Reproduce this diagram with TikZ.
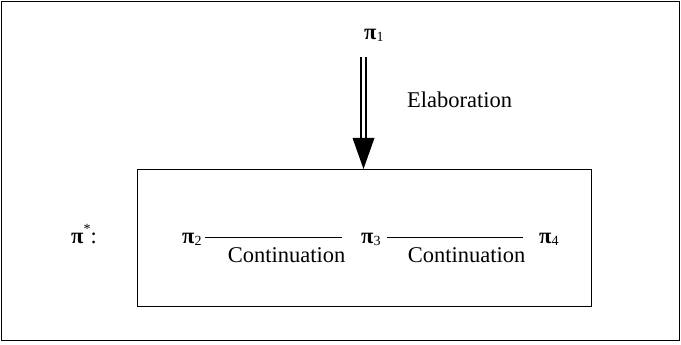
\documentclass[tikz,border=0pt]{standalone}
\usepackage{fontspec}
\setmainfont{Liberation Serif}
\newcommand{\pichar}{\textbf{π}}
\newcommand{\pisub}[1]{\pichar\raisebox{-2pt}{\fontsize{14}{14}\selectfont #1}}
\begin{document}
\begin{tikzpicture}[x=1pt,y=-1pt,
  lbl/.style={inner sep=0pt,anchor=base west,font=\fontsize{22.5}{24}\selectfont},
  frame/.style={draw,line width=1.3pt},
  contline/.style={line width=1pt},
  dbl/.style={line width=1.8pt}]
\useasboundingbox (0,0) rectangle (681,345);
\node[frame,minimum width=678pt,minimum height=339pt,anchor=north west,inner sep=0pt] (outer) at (1,1) {};
\node[frame,minimum width=454pt,minimum height=137pt,anchor=north west,inner sep=0pt] (inner) at (137,169) {};
% labels
\node[lbl] (p1) at (364,40) {\pisub{1}};
\node[lbl] (elab) at (407,107) {Elaboration};
\node[lbl] (pstar) at (71,243) {\pichar\raisebox{10pt}{\fontsize{14}{14}\selectfont *}:};
\node[lbl] (p2) at (182,243) {\pisub{2}};
\node[lbl] (p3) at (361,243) {\pisub{3}};
\node[lbl] (p4) at (539,243) {\pisub{4}};
\node[lbl,anchor=base] (c1) at (286.5,262) {Continuation};
\node[lbl,anchor=base] (c2) at (466.5,262) {Continuation};
% continuation lines
\coordinate (l1a) at (205,237);
\coordinate (l1b) at (342,237);
\coordinate (l2a) at (387,237);
\coordinate (l2b) at (523,237);
\draw[contline] (l1a) -- (l1b);
\draw[contline] (l2a) -- (l2b);
% elaboration double arrow
\coordinate (aL0) at (361,57);
\coordinate (aL1) at (361,139);
\coordinate (aR0) at (366,57);
\coordinate (aR1) at (366,139);
\draw[dbl] (aL0) -- (aL1);
\draw[dbl] (aR0) -- (aR1);
\coordinate (hb1) at (352.5,138);
\coordinate (hb2) at (374.5,138);
\coordinate (tip) at (363.5,169);
\fill (hb1) -- (hb2) -- (tip) -- cycle;
\end{tikzpicture}
\end{document}
